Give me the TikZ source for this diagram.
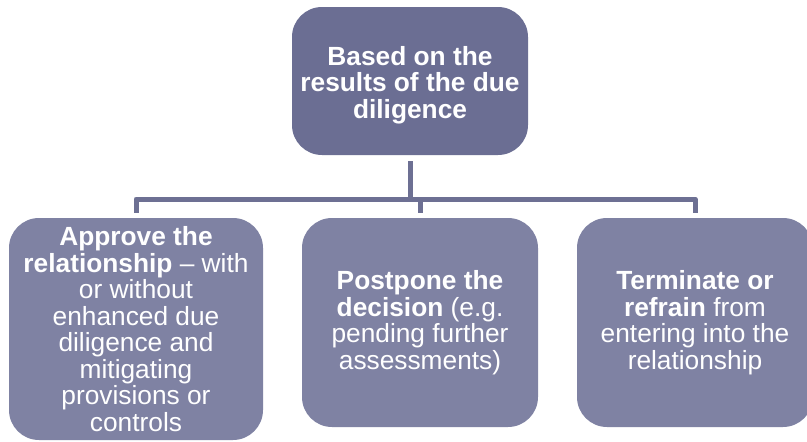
\documentclass[tikz,border=0pt]{standalone}
\usepackage{fontspec}
\setmainfont{Liberation Sans}
\begin{document}
\begin{tikzpicture}[x=1pt,y=-1pt,
  topbox/.style={fill=topfill, draw=none, rounded corners=30pt,
    minimum width=236pt, minimum height=148pt, text=white, align=center,
    inner sep=0pt, font=\fontsize{26.3}{26.5}\selectfont},
  subbox/.style={fill=subfill, draw=none, rounded corners=30pt,
    minimum width=236pt, minimum height=209pt, text=white, align=center,
    inner sep=0pt, font=\fontsize{26.3}{26.5}\selectfont},
  link/.style={draw=linkcol, line width=5pt, line join=round}]
\definecolor{topfill}{HTML}{6B6E93}
\definecolor{subfill}{HTML}{7F82A3}
\definecolor{linkcol}{HTML}{6D7093}
\useasboundingbox (0,0) rectangle (807,442);

% decision source (the strut lowers the text block slightly inside the box)
\node[topbox] (top) at (410,81)
  {\rule{0pt}{27pt}\textbf{Based on the}\\\textbf{results of the due}\\\textbf{diligence}};

% three outcomes
\node[subbox, minimum width=254pt, minimum height=222pt] (approve) at (136,329)
  {\textbf{Approve the}\\\textbf{relationship} -- with\\or without\\enhanced due\\diligence and\\mitigating\\provisions or\\controls};
\node[subbox] (postpone) at (420,322.5)
  {\textbf{Postpone the}\\\textbf{decision} (e.g.\\pending further\\assessments)};
\node[subbox] (terminate) at (695,322.5)
  {\textbf{Terminate or}\\\textbf{refrain} from\\entering into the\\relationship};

% tree connectors
\coordinate (fork) at (410,199);
\draw[link] ([yshift=-6pt]top.south) -- (fork);
\draw[link] ([yshift=5pt]approve.north) -- (approve.north |- fork)
  -- (terminate.north |- fork) -- ([yshift=5pt]terminate.north);
\draw[link] ([yshift=5pt]postpone.north) -- (postpone.north |- fork);
\end{tikzpicture}
\end{document}
